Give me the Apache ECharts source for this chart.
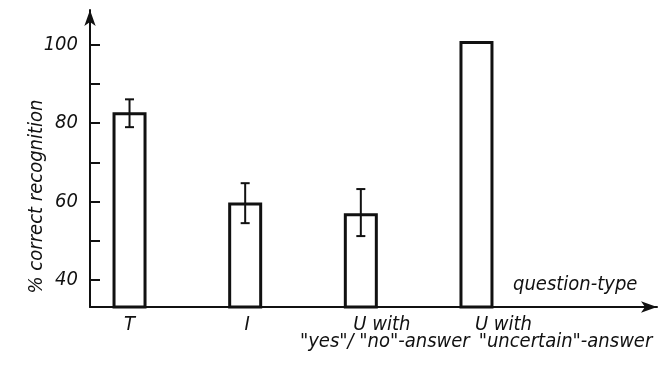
<!DOCTYPE html>
<html>
<head>
<meta charset="utf-8">
<script src="https://cdn.jsdelivr.net/npm/echarts@6/dist/echarts.min.js"></script>
<style>
html,body{margin:0;padding:0;background:#fff;}
#chart{width:658px;height:365px;}
</style>
</head>
<body>
<div id="chart"></div>
<script>
// ---- data ----
const categories = ['T', 'I', 'U with\n"yes"/ "no"-answer', 'U with\n"uncertain"-answer'];
const percentCorrect = [82.8, 59.8, 57.0, 101.0];
const errorLow = [79.0, 54.5, 51.2, null];
const errorHigh = [86.1, 64.7, 63.2, null];
const yTickValues = [40, 50, 60, 70, 80, 90, 100];
const yLabelValues = [40, 60, 80, 100];
const yAxisName = '% correct recognition';
const xAxisName = 'question-type';

// ---- layout / style ----
const FONT = "'Liberation Sans Narrow', 'DejaVu Sans Condensed', 'Liberation Sans', sans-serif";
const INK = '#111';
const Y_MIN = 33.1, Y_MAX = 108.9;
const TOP = 10, BOTTOM = 58;
// horizontal shift (px) of each label line, per category
const labelShift = [[0], [2], [21, 24], [27, 89]];

const chart = echarts.init(document.getElementById('chart'), null, {renderer: 'canvas'});

const rich = {};
const styleNames = [];
labelShift.forEach((arr, i) => {
  styleNames.push(arr.map((s, j) => {
    const name = 'c' + i + 'l' + j;
    rich[name] = {
      fontFamily: FONT, fontStyle: 'italic', fontSize: 20, color: INK,
      lineHeight: 17, align: 'center',
      padding: s >= 0 ? [0, 0, 0, 2 * s] : [0, -2 * s, 0, 0]
    };
    return name;
  }));
});

const errData = categories.map((c, i) => [i, errorLow[i], errorHigh[i]])
  .filter(d => d[1] != null && d[2] != null);

const option = {
  backgroundColor: '#fff',
  animation: false,
  grid: [
    {left: 90, right: 1, top: TOP, bottom: BOTTOM},
    {left: 71.7, right: 123.7, top: TOP, bottom: BOTTOM}
  ],
  xAxis: [
    {
      gridIndex: 0, type: 'value', min: 0, max: 1,
      axisLine: {show: true, symbol: ['none', 'arrow'], symbolSize: [8.5, 16], symbolOffset: [0, 0],
        lineStyle: {color: INK, width: 2}},
      axisTick: {show: false}, axisLabel: {show: false}, splitLine: {show: false},
      name: xAxisName, nameLocation: 'end', nameGap: -144, nameMoveOverlap: false,
      nameTextStyle: {fontFamily: FONT, fontStyle: 'italic', fontSize: 20, color: INK,
        verticalAlign: 'bottom', padding: [0, 0, 12, 0]}
    },
    {
      gridIndex: 1, type: 'category', data: categories,
      axisLine: {show: false}, axisTick: {show: false}, splitLine: {show: false},
      axisLabel: {
        interval: 0, margin: 9,
        formatter: function (value, idx) {
          const lines = value.split('\n');
          return lines.map((t, j) => '{' + styleNames[idx][j] + '|' + t + '}').join('\n');
        },
        rich: rich
      }
    }
  ],
  yAxis: [
    {
      gridIndex: 0, type: 'value', min: Y_MIN, max: Y_MAX,
      axisLine: {show: true, symbol: ['none', 'arrow'], symbolSize: [8.5, 16], symbolOffset: [0, 0],
        lineStyle: {color: INK, width: 2}},
      axisTick: {show: true, inside: true, length: 10, customValues: yTickValues,
        lineStyle: {color: INK, width: 2}},
      axisLabel: {customValues: yLabelValues, margin: 12, fontFamily: FONT, fontStyle: 'italic',
        fontSize: 20, color: INK},
      splitLine: {show: false},
      name: yAxisName, nameLocation: 'middle', nameGap: 43, nameMoveOverlap: false,
      nameTextStyle: {fontFamily: FONT, fontStyle: 'italic', fontSize: 20, color: INK, padding: [0, 76, 0, 0]}
    },
    {
      gridIndex: 1, type: 'value', min: Y_MIN, max: Y_MAX, show: false,
      splitLine: {show: false}
    }
  ],
  series: [
    {
      type: 'bar', xAxisIndex: 1, yAxisIndex: 1, data: percentCorrect,
      barWidth: 34,
      itemStyle: {color: '#fff', borderColor: INK, borderWidth: 3},
      silent: true
    },
    {
      type: 'custom', xAxisIndex: 1, yAxisIndex: 1, data: errData,
      renderItem: function (params, api) {
        const x = api.value(0);
        const lo = api.coord([x, api.value(1)]);
        const hi = api.coord([x, api.value(2)]);
        const cap = 4.5;
        const st = {stroke: INK, lineWidth: 2};
        return {
          type: 'group',
          children: [
            {type: 'line', shape: {x1: lo[0], y1: lo[1], x2: hi[0], y2: hi[1]}, style: st},
            {type: 'line', shape: {x1: hi[0] - cap, y1: hi[1], x2: hi[0] + cap, y2: hi[1]}, style: st},
            {type: 'line', shape: {x1: lo[0] - cap, y1: lo[1], x2: lo[0] + cap, y2: lo[1]}, style: st}
          ]
        };
      },
      z: 5
    }
  ]
};
chart.setOption(option);
</script>
</body>
</html>
